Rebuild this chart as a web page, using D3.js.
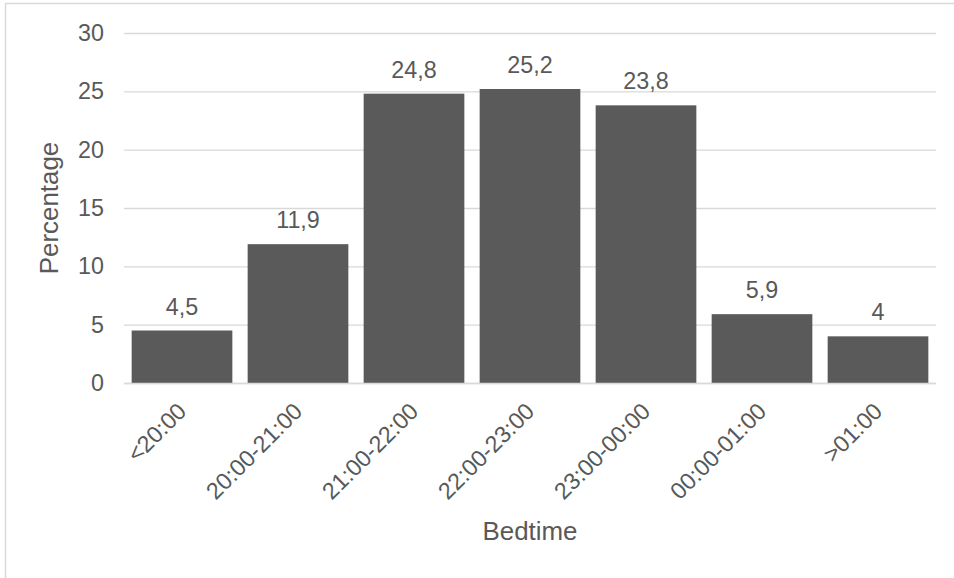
<!DOCTYPE html>
<html>
<head>
<meta charset="utf-8">
<script src="https://cdn.jsdelivr.net/npm/d3@7/dist/d3.min.js"></script>
<style>
  html, body { margin: 0; padding: 0; background: #fff; }
  svg { display: block; }
  text { font-family: "Liberation Sans", Arial, sans-serif; fill: #595959; }
</style>
</head>
<body>
<svg id="chart" width="954" height="578"></svg>
<script>
// Share of respondents by bedtime interval
const categories = ["<20:00", "20:00-21:00", "21:00-22:00", "22:00-23:00", "23:00-00:00", "00:00-01:00", ">01:00"];
const values = [4.5, 11.9, 24.8, 25.2, 23.8, 5.9, 4];
const valueLabels = ["4,5", "11,9", "24,8", "25,2", "23,8", "5,9", "4"];
const yTicks = [0, 5, 10, 15, 20, 25, 30];

const svg = d3.select("#chart");
const W = 954, H = 578;
const plot = { left: 124, right: 936, top: 33, bottom: 383 };

// Chart frame
svg.append("rect")
  .attr("x", 5.5).attr("y", 3.5)
  .attr("width", W + 20).attr("height", H + 20)
  .attr("fill", "none").attr("stroke", "#d9d9d9").attr("stroke-width", 1.5);

const x = d3.scaleBand()
  .domain(categories)
  .range([plot.left, plot.right])
  .paddingInner(0.132)
  .paddingOuter(0.066);

const y = d3.scaleLinear()
  .domain([0, 30])
  .range([plot.bottom, plot.top]);

// Horizontal gridlines
svg.append("g")
  .selectAll("line")
  .data(yTicks)
  .join("line")
  .attr("x1", plot.left).attr("x2", plot.right)
  .attr("y1", d => y(d) + 0.5).attr("y2", d => y(d) + 0.5)
  .attr("stroke", "#d9d9d9").attr("stroke-width", 1.3);

// Y axis tick labels
const yAxis = d3.axisLeft(y).tickValues(yTicks).tickSize(0).tickPadding(20).tickFormat(d3.format("d"));
const gy = svg.append("g").attr("transform", `translate(${plot.left},0)`).call(yAxis);
gy.select(".domain").remove();
gy.selectAll("text")
  .attr("font-size", "23.3px")
  .attr("fill", "#595959")
  .attr("font-family", "Liberation Sans, Arial, sans-serif");

// Bars
svg.append("g")
  .selectAll("rect")
  .data(values)
  .join("rect")
  .attr("x", (d, i) => x(categories[i]))
  .attr("y", d => y(d))
  .attr("width", x.bandwidth())
  .attr("height", d => y(0) - y(d))
  .attr("fill", "#5a5a5a");

// Zero line above the bars
svg.append("line")
  .attr("x1", plot.left).attr("x2", plot.right)
  .attr("y1", y(0) + 0.5).attr("y2", y(0) + 0.5)
  .attr("stroke", "#d9d9d9").attr("stroke-width", 1.3);

// Value labels
svg.append("g")
  .selectAll("text")
  .data(values)
  .join("text")
  .attr("x", (d, i) => x(categories[i]) + x.bandwidth() / 2)
  .attr("y", d => y(d) - 16)
  .attr("text-anchor", "middle")
  .attr("font-size", "23.3px")
  .text((d, i) => valueLabels[i]);

// Rotated category labels
svg.append("g")
  .selectAll("text")
  .data(categories)
  .join("text")
  .attr("transform", d => `translate(${x(d) + x.bandwidth() / 2},${407}) rotate(-45)`)
  .attr("text-anchor", "end")
  .attr("dy", "0.35em")
  .attr("font-size", "23.3px")
  .text(d => d);

// Axis titles
svg.append("text")
  .attr("x", (plot.left + plot.right) / 2)
  .attr("y", 540)
  .attr("text-anchor", "middle")
  .attr("font-size", "25.9px")
  .text("Bedtime");

svg.append("text")
  .attr("transform", `translate(58,${(plot.top + plot.bottom) / 2}) rotate(-90)`)
  .attr("text-anchor", "middle")
  .attr("font-size", "25.9px")
  .text("Percentage");
</script>
</body>
</html>
